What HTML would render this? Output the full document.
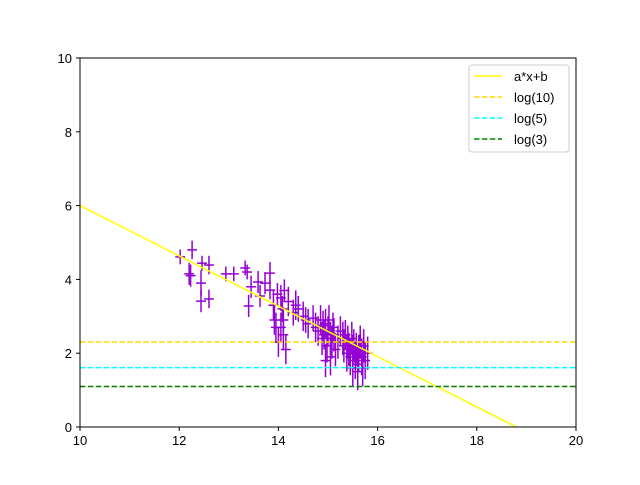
<!DOCTYPE html>
<html><head><meta charset="utf-8"><style>
body{margin:0;background:#fff;}
svg text{font-family:"Liberation Sans",sans-serif;font-size:13px;}
</style></head><body>
<svg id="chart" width="640" height="480" xmlns="http://www.w3.org/2000/svg">
<rect width="640" height="480" fill="#fff"/>
<g id="plot"></g>
</svg>
<script>
const xs=[12.02,12.26,12.2,12.23,12.46,12.6,12.44,12.44,12.6,12.94,13.1,13.33,13.37,13.4,13.45,13.59,13.63,13.73,13.83,13.83,13.9,13.92,13.95,13.98,14.0,14.05,14.08,14.1,14.12,14.15,14.2,14.3,14.35,14.4,14.5,14.55,14.6,14.7,14.75,14.8,14.85,14.88,14.9,14.92,14.95,14.98,15.0,15.02,15.05,15.08,15.1,15.12,15.15,15.2,15.25,15.3,15.32,15.35,15.38,15.4,15.42,15.45,15.48,15.5,15.52,15.55,15.57,15.6,15.62,15.65,15.68,15.7,15.72,15.75,15.8,14.05,14.1,14.95,15.05,15.5,15.6];
const ys=[4.61,4.8,4.15,4.1,4.44,4.39,3.9,3.41,3.47,4.15,4.15,4.31,4.2,3.28,3.8,3.93,3.55,3.9,3.71,4.17,3.3,2.9,2.7,3.6,2.3,3.5,3.2,2.5,3.7,2.1,3.4,3.1,3.3,3.2,3.0,2.9,2.8,2.95,2.7,2.6,2.9,2.4,2.75,2.5,2.8,2.2,2.6,2.9,2.4,2.3,2.7,2.5,2.1,2.3,2.6,2.4,2.2,2.5,2.0,2.3,2.1,1.9,2.4,2.0,2.2,1.8,2.1,1.7,2.0,2.3,1.9,1.6,2.2,1.8,2.0,2.7,2.9,1.8,1.9,1.6,1.5];
const yerr=[0.2,0.25,0.3,0.3,0.2,0.25,0.35,0.3,0.25,0.2,0.2,0.2,0.2,0.3,0.3,0.3,0.3,0.3,0.25,0.3,0.4,0.4,0.4,0.3,0.4,0.35,0.35,0.4,0.3,0.4,0.4,0.35,0.4,0.35,0.4,0.35,0.4,0.35,0.4,0.4,0.4,0.45,0.4,0.4,0.4,0.45,0.4,0.4,0.45,0.45,0.4,0.45,0.45,0.45,0.4,0.45,0.45,0.4,0.5,0.45,0.45,0.5,0.45,0.5,0.45,0.5,0.45,0.5,0.5,0.45,0.5,0.5,0.45,0.5,0.45,0.4,0.35,0.45,0.5,0.5,0.5];
const xerr=0.1;
const lineA=-0.682, lineB=12.82;
const hlines=[{v:Math.log(10),c:"#ffd700",n:"log(10)"},{v:Math.log(5),c:"#00ffff",n:"log(5)"},{v:Math.log(3),c:"#008000",n:"log(3)"}];
const xTicks=[10,12,14,16,18,20], yTicks=[0,2,4,6,8,10];
const L=80,R=576,T=58,B=427;
const X=v=>L+(v-10)/10*(R-L), Y=v=>B-v/10*(B-T);
const ns="http://www.w3.org/2000/svg", g=document.getElementById('plot');
function mk(t,a,p){const e=document.createElementNS(ns,t);for(const k in a)e.setAttribute(k,a[k]);(p||g).appendChild(e);return e;}
const clip=mk('clipPath',{id:'c'});mk('rect',{x:L,y:T,width:R-L,height:B-T},clip);
const data=mk('g',{'clip-path':'url(#c)'});
for(let i=0;i<xs.length;i++){
 const eb=mk('g',{stroke:'#9400d3','stroke-width':1.5},data);
 
 
 mk('line',{x1:X(xs[i]),x2:X(xs[i]),y1:Y(ys[i]-yerr[i]),y2:Y(ys[i]+yerr[i])},eb);
 mk('line',{x1:X(xs[i]-xerr),x2:X(xs[i]+xerr),y1:Y(ys[i]),y2:Y(ys[i])},eb);
}
const fl=mk('line',{x1:X(10),y1:Y(lineA*10+lineB),x2:X(20),y2:Y(lineA*20+lineB),stroke:'#ffff00','stroke-width':1.5},data);


hlines.forEach(h=>{const l=mk('line',{x1:L,x2:R,y1:Y(h.v),y2:Y(h.v),stroke:h.c,'stroke-width':1.5,'stroke-dasharray':'5.5,2.4'},data);
 
 });
mk('rect',{x:L,y:T,width:R-L,height:B-T,fill:'none',stroke:'#000','stroke-width':1});
xTicks.forEach(t=>{mk('line',{x1:X(t),x2:X(t),y1:B,y2:B+4,stroke:'#000'});const tx=mk('text',{x:X(t),y:B+18,'text-anchor':'middle'});tx.textContent=t;
 
 });
yTicks.forEach(t=>{mk('line',{x1:L-4,x2:L,y1:Y(t),y2:Y(t),stroke:'#000'});const tx=mk('text',{x:L-8,y:Y(t)+5,'text-anchor':'end'});tx.textContent=t;
 
 });
const lg=mk('g',{});


mk('rect',{x:469,y:65,width:100,height:87,rx:3,fill:'#fff',stroke:'#ccc'},lg);
const ent=[{c:'#ffff00',n:'a*x+b',d:null}].concat(hlines.map(h=>({c:h.c,n:h.n,d:'5.5,2.4'})));
ent.forEach((e,i)=>{const y=76+i*21;const a={x1:474,x2:502,y1:y,y2:y,stroke:e.c,'stroke-width':1.5};if(e.d)a['stroke-dasharray']=e.d;mk('line',a,lg);
 const t=mk('text',{x:514,y:y+5},lg);t.textContent=e.n;});
</script>
</body></html>
